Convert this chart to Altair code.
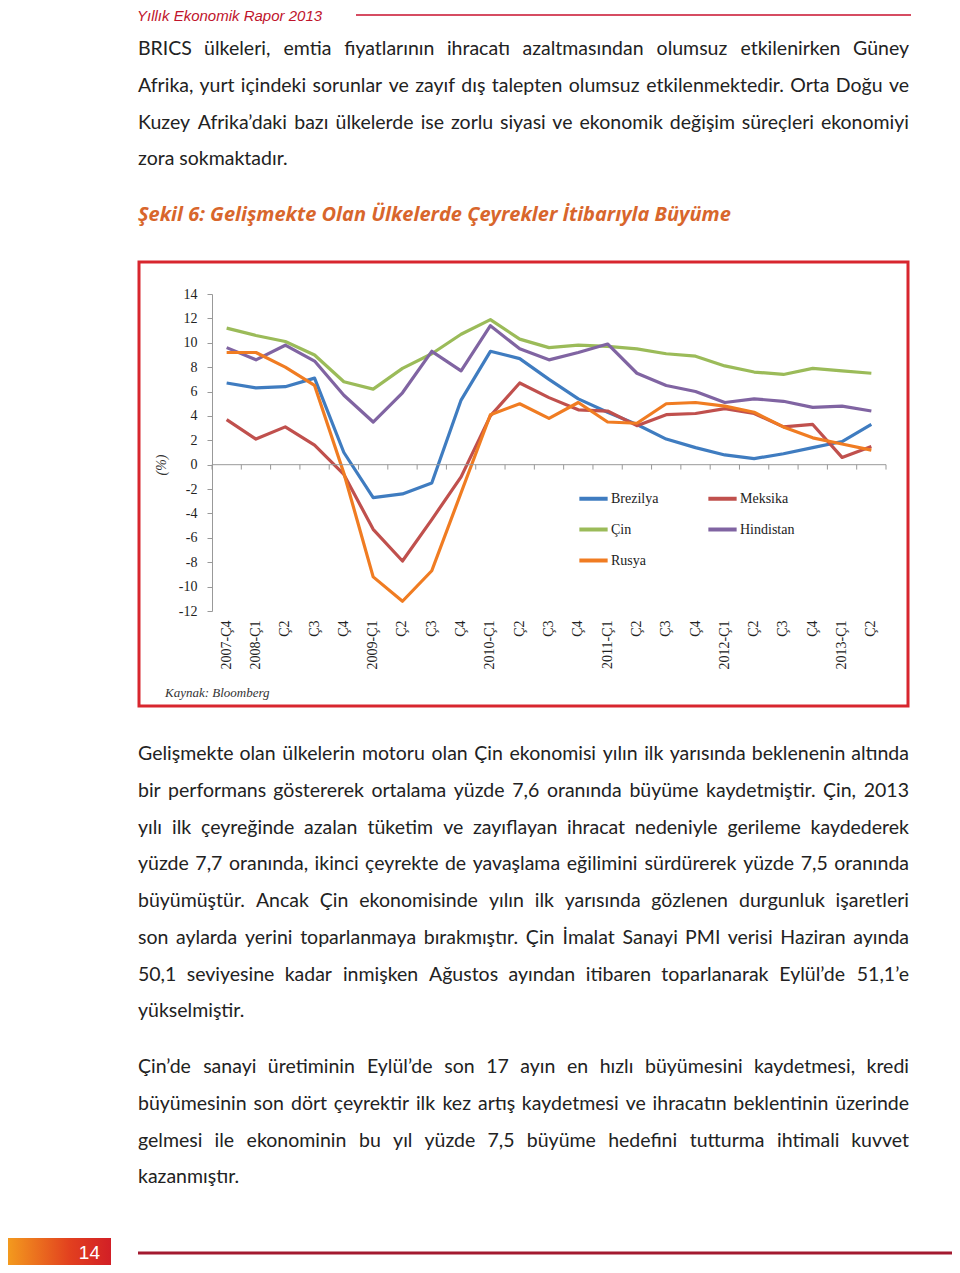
import altair as alt
import pandas as pd

# ---------------- data ----------------
quarters = ["2007-Ç4", "2008-Ç1", "Ç2", "Ç3", "Ç4", "2009-Ç1", "Ç2", "Ç3", "Ç4",
            "2010-Ç1", "Ç2", "Ç3", "Ç4", "2011-Ç1", "Ç2", "Ç3", "Ç4",
            "2012-Ç1", "Ç2", "Ç3", "Ç4", "2013-Ç1", "Ç2"]
qkeys = [f"q{i:02d}" for i in range(len(quarters))]

brezilya = [6.7, 6.3, 6.4, 7.1, 1.0, -2.7, -2.4, -1.5, 5.3, 9.3, 8.7, 7.0, 5.4,
            4.3, 3.3, 2.1, 1.4, 0.8, 0.5, 0.9, 1.4, 1.9, 3.3]
meksika = [3.7, 2.1, 3.1, 1.6, -0.8, -5.3, -7.9, -4.5, -1.0, 4.0, 6.7, 5.5, 4.5,
           4.4, 3.2, 4.1, 4.2, 4.6, 4.2, 3.1, 3.3, 0.6, 1.5]
cin = [11.2, 10.6, 10.1, 9.0, 6.8, 6.2, 7.9, 9.1, 10.7, 11.9, 10.3, 9.6, 9.8,
       9.7, 9.5, 9.1, 8.9, 8.1, 7.6, 7.4, 7.9, 7.7, 7.5]
hindistan = [9.6, 8.6, 9.8, 8.5, 5.7, 3.5, 5.9, 9.3, 7.7, 11.4, 9.5, 8.6, 9.2,
             9.9, 7.5, 6.5, 6.0, 5.1, 5.4, 5.2, 4.7, 4.8, 4.4]
rusya = [9.2, 9.2, 8.0, 6.5, -0.7, -9.2, -11.2, -8.7, -2.3, 4.1, 5.0, 3.8, 5.1,
         3.5, 3.4, 5.0, 5.1, 4.8, 4.3, 3.1, 2.2, 1.7, 1.2]

series_names = ["Brezilya", "Meksika", "Çin", "Hindistan", "Rusya"]
series_colors = ["#3F7CC0", "#C0504D", "#9BBB59", "#8064A2", "#F07C22"]
series_values = [brezilya, meksika, cin, hindistan, rusya]

y_ticks = [14, 12, 10, 8, 6, 4, 2, 0, -2, -4, -6, -8, -10, -12]

header_text = "Yıllık Ekonomik Rapor 2013"
title_text = "Şekil 6: Gelişmekte Olan Ülkelerde Çeyrekler İtibarıyla Büyüme"
source_text = "Kaynak: Bloomberg"
unit_text = "(%)"
page_number = "14"

para1 = [
    "BRICS ülkeleri, emtia fiyatlarının ihracatı azaltmasından olumsuz etkilenirken Güney",
    "Afrika, yurt içindeki sorunlar ve zayıf dış talepten olumsuz etkilenmektedir. Orta Doğu ve",
    "Kuzey Afrika’daki bazı ülkelerde ise zorlu siyasi ve ekonomik değişim süreçleri ekonomiyi",
    "zora sokmaktadır.",
]
para2 = [
    "Gelişmekte olan ülkelerin motoru olan Çin ekonomisi yılın ilk yarısında beklenenin altında",
    "bir performans göstererek ortalama yüzde 7,6 oranında büyüme kaydetmiştir.  Çin, 2013",
    "yılı ilk çeyreğinde azalan tüketim ve zayıflayan ihracat nedeniyle gerileme kaydederek",
    "yüzde 7,7 oranında, ikinci çeyrekte de yavaşlama eğilimini sürdürerek yüzde 7,5 oranında",
    "büyümüştür. Ancak Çin ekonomisinde yılın ilk yarısında gözlenen durgunluk işaretleri",
    "son aylarda yerini toparlanmaya bırakmıştır. Çin İmalat Sanayi PMI verisi Haziran ayında",
    "50,1 seviyesine kadar inmişken Ağustos ayından itibaren toparlanarak Eylül’de 51,1’e",
    "yükselmiştir.",
]
para3 = [
    "Çin’de sanayi üretiminin Eylül’de son 17 ayın en hızlı büyümesini kaydetmesi, kredi",
    "büyümesinin son dört çeyrektir ilk kez artış kaydetmesi ve ihracatın beklentinin üzerinde",
    "gelmesi ile ekonominin bu yıl yüzde 7,5 büyüme hedefini tutturma ihtimali kuvvet",
    "kazanmıştır.",
]

# ---------------- layout (page coordinates) ----------------
PLOT_L, PLOT_T, PLOT_W, PLOT_H = 212, 294, 674, 317
MARGIN = 8
TEXT_L, TEXT_R = 138, 909
BODY_SIZE = 19.5
LINE_STEP = 36.75


def X(px):
    return px - PLOT_L


def Y(py):
    return py - PLOT_T


# approximate glyph advance widths (em) for the body font, used only to justify lines
_W = {" ": 0.19, "a": 0.49, "b": 0.56, "c": 0.46, "d": 0.56, "e": 0.52, "f": 0.33, "g": 0.51,
      "h": 0.56, "i": 0.24, "j": 0.24, "k": 0.5, "l": 0.24, "m": 0.84, "n": 0.56, "o": 0.56,
      "p": 0.55, "q": 0.56, "r": 0.36, "s": 0.42, "t": 0.35, "u": 0.56, "v": 0.5, "w": 0.76,
      "x": 0.48, "y": 0.5, "z": 0.45, "ı": 0.24, "ş": 0.42, "ç": 0.46, "ğ": 0.51, "ö": 0.56,
      "ü": 0.56, "İ": 0.28, "A": 0.68, "B": 0.63, "C": 0.66, "D": 0.74, "E": 0.56, "F": 0.54,
      "G": 0.71, "H": 0.75, "I": 0.28, "K": 0.65, "L": 0.5, "M": 0.88, "N": 0.75, "O": 0.79,
      "P": 0.6, "R": 0.62, "S": 0.52, "T": 0.58, "Ü": 0.73, "Ç": 0.66, "Ş": 0.52, "Ğ": 0.71,
      ",": 0.22, ".": 0.22, "’": 0.22, "-": 0.33}


def est_width(word, size):
    return sum(_W.get(ch, 0.58) for ch in word) * size


def paragraph_rows(lines, top):
    rows = []
    for li, line in enumerate(lines):
        py = top + li * LINE_STEP
        words = line.split()
        last = li == len(lines) - 1
        if last or len(words) == 1:
            rows.append({"t": line, "x": X(TEXT_L), "y": Y(py), "al": "left"})
            continue
        widths = [est_width(w, BODY_SIZE) for w in words]
        gap = (TEXT_R - TEXT_L - sum(widths)) / (len(words) - 1)
        cur = TEXT_L
        for wi, (w, ew) in enumerate(zip(words, widths)):
            if wi == 0:
                rows.append({"t": w, "x": X(TEXT_L), "y": Y(py), "al": "left"})
            elif wi == len(words) - 1:
                rows.append({"t": w, "x": X(TEXT_R), "y": Y(py), "al": "right"})
            else:
                rows.append({"t": w, "x": X(cur + ew / 2), "y": Y(py), "al": "center"})
            cur += ew + gap
    return rows


rows = []
for name, vals in zip(series_names, series_values):
    for k, q, v in zip(qkeys, quarters, vals):
        rows.append({"ulke": name, "key": k, "ceyrek": q, "deger": v})
df = pd.DataFrame(rows)
label_expr = "{" + ",".join(f"'{k}':'{q}'" for k, q in zip(qkeys, quarters)) + "}[datum.value]"

x_scale = alt.Scale(type="band", domain=qkeys, paddingInner=0, paddingOuter=0)
y_scale = alt.Scale(domain=[-12, 14], nice=False, zero=False)

SERIF = "Liberation Serif"
BODY = "Lato"

x_axis = alt.Axis(title=None, labelExpr=label_expr, labelAngle=270, labelAlign="right",
                  labelBaseline="middle", labelFont=SERIF, labelFontSize=14,
                  labelColor="#222", domain=False, ticks=False, labelPadding=9,
                  grid=False, labelOverlap=False)
y_axis = alt.Axis(title=None, values=y_ticks, labelExpr="'' + datum.value",
                  labelOverlap=False, labelFont=SERIF, labelFontSize=14,
                  labelColor="#222", domainColor="#999", tickColor="#999",
                  tickSize=5, labelPadding=10, grid=False)

lines = alt.Chart(df).mark_line(strokeWidth=3.2, strokeJoin="round").encode(
    x=alt.X("key:N", scale=x_scale, sort=qkeys, axis=x_axis),
    y=alt.Y("deger:Q", scale=y_scale, axis=y_axis),
    color=alt.Color("ulke:N", sort=series_names,
                    scale=alt.Scale(domain=series_names, range=series_colors),
                    legend=alt.Legend(title=None, orient="none", legendX=X(577), legendY=Y(482),
                                      columns=2, symbolType="stroke", symbolSize=800,
                                      symbolStrokeWidth=4, labelFont=SERIF, labelFontSize=14,
                                      labelColor="#222", columnPadding=41, rowPadding=6,
                                      labelOffset=1, direction="horizontal", padding=0)),
    order=alt.Order("key:N"),
)

zero_df = pd.DataFrame({"key": qkeys, "v": [0] * len(qkeys), "v2": [-0.4] * len(qkeys)})
zero_line = alt.Chart(zero_df.head(1)).mark_rule(color="#999", strokeWidth=1).encode(
    y=alt.Y("v:Q", scale=y_scale, axis=y_axis), x=alt.value(0), x2=alt.value(PLOT_W))
zero_ticks = alt.Chart(zero_df).mark_rule(color="#999", strokeWidth=1).encode(
    x=alt.X("key:N", scale=x_scale, sort=qkeys, bandPosition=0, axis=x_axis),
    y=alt.Y("v:Q", scale=y_scale, axis=y_axis), y2="v2:Q")
zero_tick_end = alt.Chart(zero_df.tail(1)).mark_rule(color="#999", strokeWidth=1).encode(
    x=alt.X("key:N", scale=x_scale, sort=qkeys, bandPosition=1, axis=x_axis),
    y=alt.Y("v:Q", scale=y_scale, axis=y_axis), y2="v2:Q")

frame = alt.Chart(pd.DataFrame({"a": [0]})).mark_rect(
    fillOpacity=0, stroke="#D8262E", strokeWidth=3).encode(
    x=alt.value(X(139)), x2=alt.value(X(908)), y=alt.value(Y(262)), y2=alt.value(Y(706)))


def text_layer(txt, px, py, size, font=BODY, color="#222", style="normal", weight="normal",
               angle=0, align="left"):
    return alt.Chart(pd.DataFrame({"t": [txt]})).mark_text(
        font=font, fontSize=size, fontStyle=style, fontWeight=weight, color=color,
        align=align, baseline="middle", angle=angle).encode(
        text="t:N", x=alt.value(X(px)), y=alt.value(Y(py)))


body_rows = (paragraph_rows(para1, 49) + paragraph_rows(para2, 754)
             + paragraph_rows(para3, 1067))
body_df = pd.DataFrame(body_rows)
body_layers = []
for al in ["left", "center", "right"]:
    sub = body_df[body_df["al"] == al]
    body_layers.append(alt.Chart(sub).mark_text(
        font=BODY, fontSize=BODY_SIZE, color="#222", align=al, baseline="middle").encode(
        text="t:N", x=alt.X("x:Q", scale=None), y=alt.Y("y:Q", scale=None)))

texts = []
texts.append(text_layer(header_text, 137, 16, 15, font="Liberation Sans",
                        color="#C0142C", style="italic"))
texts.append(text_layer(title_text, 138, 215, 20, font="Open Sans", color="#D8662C",
                        style="italic", weight="bold"))
texts.append(text_layer(source_text, 165, 693, 13, font=SERIF, style="italic", color="#333"))
texts.append(text_layer(unit_text, 162, 465, 14, font=SERIF, style="italic", color="#333",
                        angle=270, align="center"))

header_line = alt.Chart(pd.DataFrame({"a": [0]})).mark_rule(color="#C8102E", strokeWidth=1.5).encode(
    x=alt.value(X(356)), x2=alt.value(X(911)), y=alt.value(Y(15)))
footer_line = alt.Chart(pd.DataFrame({"a": [0]})).mark_rule(color="#A3192F", strokeWidth=3).encode(
    x=alt.value(X(138)), x2=alt.value(X(960)), y=alt.value(Y(1253)))
footer_box = alt.Chart(pd.DataFrame({"a": [0]})).mark_rect(
    color=alt.Gradient(gradient="linear", x1=0, x2=1, y1=0, y2=0,
                       stops=[alt.GradientStop(color="#F39A1E", offset=0),
                              alt.GradientStop(color="#E2401F", offset=0.6),
                              alt.GradientStop(color="#D21F26", offset=1)])).encode(
    x=alt.value(X(8)), x2=alt.value(X(111)), y=alt.value(Y(1238)), y2=alt.value(Y(1268)))
page_num = text_layer(page_number, 100, 1253, 19, font="Liberation Sans",
                      color="white", align="right")

chart = alt.layer(
    lines, frame, zero_line, zero_ticks, zero_tick_end, header_line, footer_line,
    footer_box, page_num, *texts, *body_layers
).properties(
    width=PLOT_W, height=PLOT_H,
    autosize=alt.AutoSizeParams(type="none"),
    padding={"left": PLOT_L - MARGIN, "top": PLOT_T - MARGIN,
             "right": 960 - 2 * MARGIN - (PLOT_L - MARGIN) - PLOT_W,
             "bottom": 1273 - 2 * MARGIN - (PLOT_T - MARGIN) - PLOT_H},
).configure(background="white", view=alt.ViewConfig(stroke=None))

chart.save("out.html", embed_options={"renderer": "svg", "actions": False})
